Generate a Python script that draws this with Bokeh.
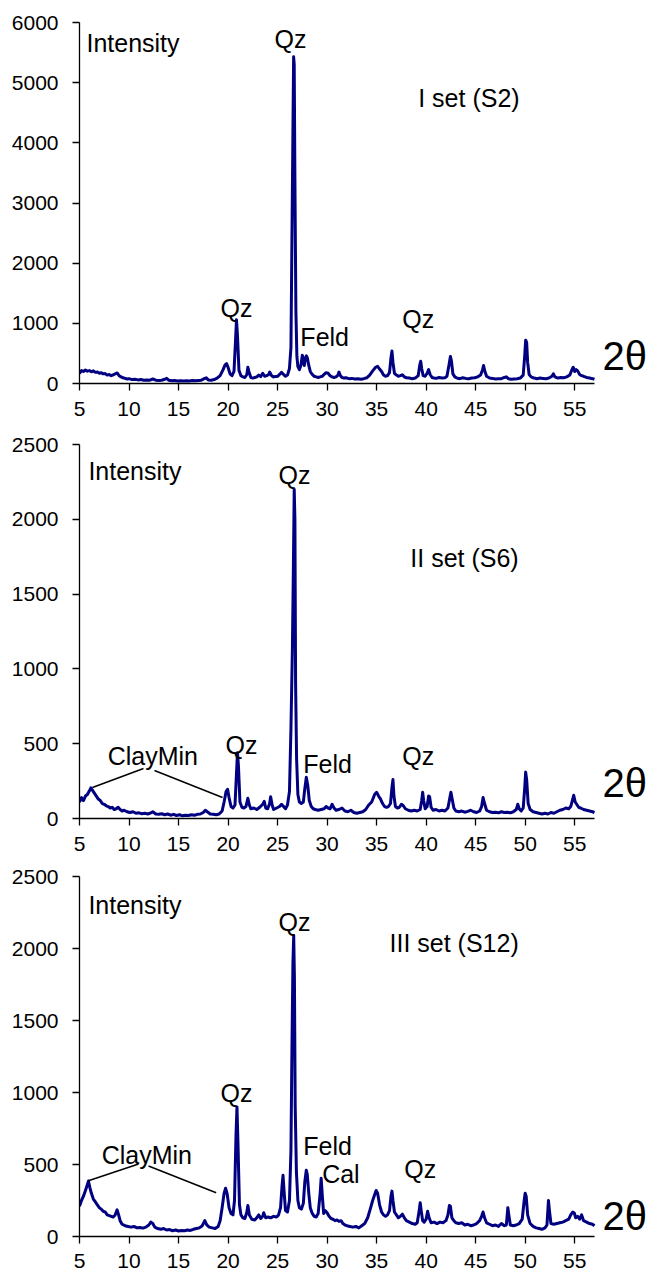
from bokeh.plotting import figure
from bokeh.layouts import column
from bokeh.models import Range1d, FixedTicker, Label
from bokeh.embed import file_html
from bokeh.resources import INLINE

# ---------------- data (2theta, intensity) ----------------
S2_PATTERN = [(5.0,170),(5.2,215),(5.4,200),(5.6,225),(5.8,205),(6.0,215),(6.2,195),(6.4,210),(6.6,185),(6.8,190),(7.0,170),(7.2,180),(7.4,160),(7.6,165),(7.8,140),(8.0,150),(8.2,130),(8.4,145),(8.6,160),(8.8,175),(9.0,130),(9.2,110),(9.4,95),(9.6,85),(9.8,75),(10.0,80),(10.3,65),(10.6,70),(10.9,60),(11.2,65),(11.5,55),(11.8,60),(12.1,55),(12.4,75),(12.7,55),(13.0,50),(13.3,55),(13.6,70),(13.8,85),(14.0,55),(14.3,45),(14.6,50),(14.9,40),(15.2,45),(15.5,40),(15.8,45),(16.1,40),(16.4,50),(16.7,45),(17.0,50),(17.3,55),(17.6,80),(17.8,95),(18.0,60),(18.3,55),(18.6,65),(18.9,90),(19.2,130),(19.5,230),(19.7,310),(19.85,330),(20.0,270),(20.2,160),(20.4,130),(20.6,200),(20.75,700),(20.85,1060),(20.95,800),(21.1,220),(21.3,130),(21.5,110),(21.7,100),(21.9,150),(22.0,270),(22.1,200),(22.3,100),(22.5,90),(22.7,100),(22.9,110),(23.1,140),(23.3,115),(23.5,170),(23.7,120),(23.9,130),(24.1,150),(24.2,190),(24.4,130),(24.6,110),(24.8,115),(25.0,120),(25.2,150),(25.4,185),(25.6,150),(25.8,120),(26.0,140),(26.2,250),(26.35,600),(26.45,2400),(26.55,4200),(26.62,5430),(26.68,5300),(26.75,3400),(26.85,1200),(26.95,450),(27.05,280),(27.2,230),(27.35,300),(27.5,470),(27.6,380),(27.7,300),(27.8,420),(27.9,460),(28.0,430),(28.15,300),(28.3,200),(28.5,150),(28.7,120),(28.9,110),(29.1,100),(29.3,110),(29.5,120),(29.7,150),(29.9,180),(30.1,170),(30.3,130),(30.5,110),(30.7,100),(30.9,110),(31.1,140),(31.2,190),(31.3,140),(31.5,100),(31.7,90),(31.9,95),(32.2,80),(32.5,85),(32.8,75),(33.1,80),(33.4,70),(33.7,80),(34.0,95),(34.3,140),(34.6,210),(34.9,270),(35.1,285),(35.3,240),(35.5,200),(35.7,140),(35.9,120),(36.1,130),(36.3,180),(36.45,430),(36.55,540),(36.65,350),(36.8,170),(37.0,140),(37.2,120),(37.4,130),(37.6,145),(37.8,110),(38.0,95),(38.3,90),(38.6,80),(38.9,90),(39.2,130),(39.35,300),(39.45,370),(39.55,250),(39.7,130),(39.9,120),(40.1,170),(40.25,230),(40.4,150),(40.6,100),(40.8,90),(41.0,85),(41.3,100),(41.6,90),(41.9,95),(42.1,120),(42.3,300),(42.45,450),(42.55,380),(42.7,160),(42.9,110),(43.1,90),(43.4,80),(43.7,95),(44.0,85),(44.3,80),(44.6,90),(44.9,95),(45.2,110),(45.5,140),(45.7,230),(45.8,300),(45.9,220),(46.1,120),(46.4,90),(46.7,85),(47.0,75),(47.3,80),(47.6,80),(47.9,100),(48.1,110),(48.3,80),(48.6,70),(48.9,75),(49.2,80),(49.5,90),(49.8,140),(49.95,450),(50.05,720),(50.15,680),(50.25,350),(50.4,150),(50.6,110),(50.9,90),(51.2,80),(51.5,90),(51.8,85),(52.1,80),(52.4,90),(52.7,120),(52.85,160),(53.0,110),(53.3,90),(53.6,100),(53.9,95),(54.2,110),(54.5,140),(54.7,220),(54.85,270),(55.0,200),(55.15,230),(55.3,210),(55.5,150),(55.7,130),(55.9,120),(56.2,100),(56.5,90),(56.8,80),(57.0,70)]

S6_PATTERN = [(5.0,110),(5.2,140),(5.4,120),(5.6,150),(5.8,160),(6.0,185),(6.15,205),(6.3,190),(6.5,170),(6.7,150),(6.9,130),(7.1,120),(7.3,100),(7.5,95),(7.7,85),(7.9,80),(8.1,70),(8.3,75),(8.5,60),(8.7,65),(8.9,75),(9.1,60),(9.3,50),(9.5,55),(9.8,45),(10.1,40),(10.4,45),(10.7,35),(11.0,38),(11.3,32),(11.6,35),(11.9,30),(12.2,38),(12.4,45),(12.7,30),(13.0,28),(13.3,32),(13.6,25),(13.9,30),(14.2,22),(14.5,28),(14.8,20),(15.1,25),(15.4,18),(15.7,22),(16.0,20),(16.3,25),(16.6,22),(16.9,28),(17.2,30),(17.5,40),(17.7,55),(17.9,45),(18.2,30),(18.5,28),(18.8,25),(19.1,30),(19.4,50),(19.6,110),(19.8,180),(19.95,195),(20.1,140),(20.3,80),(20.5,70),(20.7,90),(20.85,300),(20.95,440),(21.05,350),(21.2,110),(21.4,75),(21.6,70),(21.8,80),(22.0,135),(22.15,90),(22.3,65),(22.6,70),(22.9,60),(23.2,75),(23.5,95),(23.65,115),(23.8,70),(24.0,65),(24.2,100),(24.3,145),(24.45,90),(24.6,60),(24.9,70),(25.2,80),(25.4,95),(25.6,80),(25.8,65),(26.0,90),(26.2,180),(26.35,600),(26.5,1150),(26.6,1700),(26.68,2200),(26.75,2000),(26.82,900),(26.92,400),(27.05,160),(27.2,110),(27.4,100),(27.6,110),(27.75,200),(27.9,275),(28.05,220),(28.2,120),(28.4,80),(28.6,65),(28.8,60),(29.1,55),(29.4,60),(29.7,65),(29.9,80),(30.1,70),(30.3,65),(30.5,95),(30.7,70),(30.9,55),(31.2,60),(31.5,70),(31.8,50),(32.1,45),(32.4,55),(32.7,40),(33.0,35),(33.3,40),(33.6,45),(33.9,60),(34.2,90),(34.5,110),(34.8,160),(35.0,175),(35.2,150),(35.4,130),(35.6,100),(35.8,80),(36.0,75),(36.2,80),(36.4,100),(36.55,210),(36.65,260),(36.75,150),(36.9,80),(37.1,70),(37.3,75),(37.5,95),(37.7,85),(37.9,65),(38.2,55),(38.5,50),(38.8,55),(39.1,50),(39.4,60),(39.55,120),(39.65,175),(39.75,120),(39.9,65),(40.1,80),(40.25,150),(40.35,145),(40.5,75),(40.7,55),(41.0,60),(41.3,50),(41.6,55),(41.9,50),(42.2,70),(42.4,140),(42.5,175),(42.6,140),(42.8,70),(43.0,50),(43.3,45),(43.6,50),(43.9,42),(44.2,48),(44.5,55),(44.8,45),(45.1,40),(45.4,50),(45.6,80),(45.75,140),(45.9,100),(46.1,55),(46.4,45),(46.7,40),(47.0,42),(47.3,38),(47.6,45),(47.9,40),(48.2,42),(48.5,38),(48.8,45),(49.1,60),(49.25,95),(49.4,65),(49.6,50),(49.8,70),(49.95,200),(50.05,310),(50.15,260),(50.3,100),(50.5,60),(50.8,45),(51.1,40),(51.4,35),(51.7,30),(52.0,35),(52.3,30),(52.6,40),(52.9,35),(53.2,45),(53.5,55),(53.8,60),(54.1,70),(54.4,65),(54.6,80),(54.8,130),(54.9,155),(55.05,110),(55.2,95),(55.4,75),(55.6,70),(55.9,60),(56.2,55),(56.5,50),(56.8,45),(57.0,40)]

S12_PATTERN = [(5.0,210),(5.2,250),(5.4,280),(5.6,320),(5.75,350),(5.9,385),(6.05,340),(6.2,300),(6.4,260),(6.6,240),(6.8,220),(7.0,200),(7.2,190),(7.4,175),(7.6,170),(7.8,150),(8.0,145),(8.2,140),(8.4,135),(8.6,150),(8.8,185),(8.95,150),(9.1,110),(9.3,85),(9.6,75),(9.9,70),(10.2,65),(10.5,70),(10.8,60),(11.1,62),(11.4,58),(11.7,65),(12.0,80),(12.2,100),(12.4,90),(12.6,65),(12.9,55),(13.2,50),(13.5,55),(13.8,45),(14.1,48),(14.4,40),(14.7,45),(15.0,38),(15.3,42),(15.6,40),(15.9,45),(16.2,42),(16.5,50),(16.8,55),(17.1,60),(17.4,75),(17.65,110),(17.85,80),(18.1,65),(18.4,60),(18.7,55),(19.0,70),(19.2,110),(19.4,200),(19.6,300),(19.75,335),(19.9,300),(20.1,200),(20.3,160),(20.5,150),(20.65,250),(20.8,700),(20.9,900),(21.0,650),(21.15,220),(21.3,150),(21.5,130),(21.7,125),(21.9,170),(22.0,215),(22.15,150),(22.4,120),(22.7,115),(22.9,130),(23.1,150),(23.3,125),(23.5,140),(23.6,165),(23.8,130),(24.0,135),(24.3,130),(24.6,140),(24.9,135),(25.1,150),(25.3,200),(25.45,350),(25.55,425),(25.65,320),(25.8,180),(26.0,170),(26.2,250),(26.35,600),(26.45,1300),(26.55,1900),(26.63,2090),(26.7,1800),(26.78,900),(26.9,450),(27.05,250),(27.2,200),(27.4,190),(27.6,230),(27.75,380),(27.9,460),(28.0,430),(28.15,300),(28.3,200),(28.5,160),(28.7,140),(28.9,135),(29.1,160),(29.3,300),(29.4,405),(29.5,300),(29.65,160),(29.8,180),(30.0,165),(30.2,140),(30.4,125),(30.6,120),(30.8,110),(31.0,115),(31.2,105),(31.4,110),(31.6,90),(31.8,80),(32.0,75),(32.3,70),(32.6,65),(32.9,70),(33.2,60),(33.5,75),(33.8,90),(34.1,130),(34.4,200),(34.6,250),(34.8,290),(34.95,320),(35.1,300),(35.3,220),(35.5,170),(35.7,150),(35.9,140),(36.1,150),(36.3,180),(36.45,280),(36.55,315),(36.65,250),(36.8,170),(37.0,150),(37.2,130),(37.4,140),(37.6,155),(37.8,130),(38.0,110),(38.3,100),(38.6,90),(38.9,85),(39.1,95),(39.3,180),(39.4,235),(39.5,180),(39.65,110),(39.8,100),(40.0,120),(40.15,175),(40.3,130),(40.5,95),(40.8,100),(41.1,90),(41.4,100),(41.7,95),(42.0,110),(42.2,150),(42.35,215),(42.45,210),(42.6,130),(42.8,110),(43.0,95),(43.3,90),(43.6,95),(43.9,80),(44.2,85),(44.5,75),(44.8,80),(45.1,90),(45.4,110),(45.6,140),(45.75,170),(45.9,130),(46.1,95),(46.4,85),(46.7,75),(47.0,80),(47.3,70),(47.6,90),(47.9,75),(48.1,80),(48.25,200),(48.35,150),(48.5,80),(48.8,75),(49.1,80),(49.4,90),(49.7,120),(49.9,250),(50.0,300),(50.1,280),(50.25,150),(50.5,90),(50.8,70),(51.1,60),(51.4,55),(51.7,50),(52.0,60),(52.2,80),(52.35,250),(52.45,180),(52.6,90),(52.9,85),(53.2,90),(53.5,95),(53.8,100),(54.1,110),(54.4,120),(54.6,150),(54.8,170),(54.95,165),(55.1,130),(55.3,140),(55.5,120),(55.7,150),(55.9,110),(56.2,100),(56.5,90),(56.8,85),(57.0,75)]

X_TICKS = [5, 10, 15, 20, 25, 30, 35, 40, 45, 50, 55]
Y_TICKS_1 = [0, 1000, 2000, 3000, 4000, 5000, 6000]
Y_TICKS_2 = [0, 500, 1000, 1500, 2000, 2500]
TITLES = ["I set (S2)", "II set (S6)", "III set (S12)"]

LINE_COLOR = "#000080"
FONT = "Liberation Sans"


def make_panel(pattern, ymax, yticks, frame_h, top, bottom, xstandoff):
    p = figure(frame_width=567, frame_height=frame_h,
               x_range=Range1d(5, 62.25), y_range=Range1d(0, ymax),
               output_backend="svg", toolbar_location=None,
               min_border_left=79, min_border_right=0,
               min_border_top=top, min_border_bottom=bottom)
    p.outline_line_color = None
    p.xgrid.grid_line_color = None
    p.ygrid.grid_line_color = None
    p.background_fill_color = "white"
    p.border_fill_color = "white"
    for ax in (p.xaxis[0], p.yaxis[0]):
        ax.axis_line_color = "black"
        ax.axis_line_width = 1.3
        ax.major_tick_line_color = "black"
        ax.major_tick_line_width = 1.3
        ax.major_tick_out = 7
        ax.major_tick_in = 0
        ax.minor_tick_line_color = None
        ax.major_label_text_font = FONT
        ax.major_label_text_font_size = "21px"
        ax.major_label_text_color = "black"
        ax.major_label_text_line_height = 1.0
    p.xaxis[0].ticker = FixedTicker(ticks=X_TICKS)
    p.xaxis[0].bounds = (5, 57)
    p.yaxis[0].ticker = FixedTicker(ticks=yticks)
    p.yaxis[0].major_label_standoff = 14
    p.xaxis[0].major_label_standoff = xstandoff
    xs = [a for a, b in pattern]
    ys = [b for a, b in pattern]
    p.line(xs, ys, line_color=LINE_COLOR, line_width=3, line_join="round")
    return p


def lab(p, x, y, text, size="25px", align="left"):
    p.add_layout(Label(x=x, y=y, text=text, text_font=FONT, text_font_size=size,
                       text_color="black", text_align=align, text_baseline="middle"))


p1 = make_panel(S2_PATTERN, 6000, Y_TICKS_1, 361, 22, 47, 11)
p2 = make_panel(S6_PATTERN, 2500, Y_TICKS_2, 374, 14, 48, 11)
p3 = make_panel(S12_PATTERN, 2500, Y_TICKS_2, 360, 10, 41, 10)

# panel 1
lab(p1, 5.7, 5667, "Intensity")
lab(p1, 26.3, 5734, "Qz", align="center")
lab(p1, 39.2, 4737, TITLES[0])
lab(p1, 20.85, 1247, "Qz", align="center")
lab(p1, 27.3, 765, "Feld")
lab(p1, 39.2, 1080, "Qz", align="center")
lab(p1, 57.8, 465, "2θ", size="40px")

# panel 2
lab(p2, 5.9, 2326, "Intensity")
lab(p2, 26.7, 2293, "Qz", align="center")
lab(p2, 38.4, 1744, TITLES[1])
lab(p2, 12.4, 421, "ClayMin", align="center")
lab(p2, 21.35, 488, "Qz", align="center")
lab(p2, 27.6, 361, "Feld")
lab(p2, 39.2, 421, "Qz", align="center")
lab(p2, 57.8, 234, "2θ", size="40px")
p2.segment(x0=[11.46, 12.57], y0=[334, 321], x1=[6.31, 19.44], y1=[207, 140],
           line_color="black", line_width=1.5)

# panel 3
lab(p3, 5.9, 2300, "Intensity")
lab(p3, 26.7, 2182, "Qz", align="center")
lab(p3, 36.3, 2037, TITLES[2])
lab(p3, 20.85, 994, "Qz", align="center")
lab(p3, 11.8, 566, "ClayMin", align="center")
lab(p3, 27.6, 628, "Feld")
lab(p3, 29.5, 435, "Cal")
lab(p3, 39.4, 470, "Qz", align="center")
lab(p3, 57.8, 145, "2θ", size="40px")
p3.segment(x0=[10.96, 11.97], y0=[504, 490], x1=[5.9, 18.8], y1=[387, 304],
           line_color="black", line_width=1.5)

layout = column(p1, p2, p3)
open("out.html", "w").write(file_html(layout, INLINE))
